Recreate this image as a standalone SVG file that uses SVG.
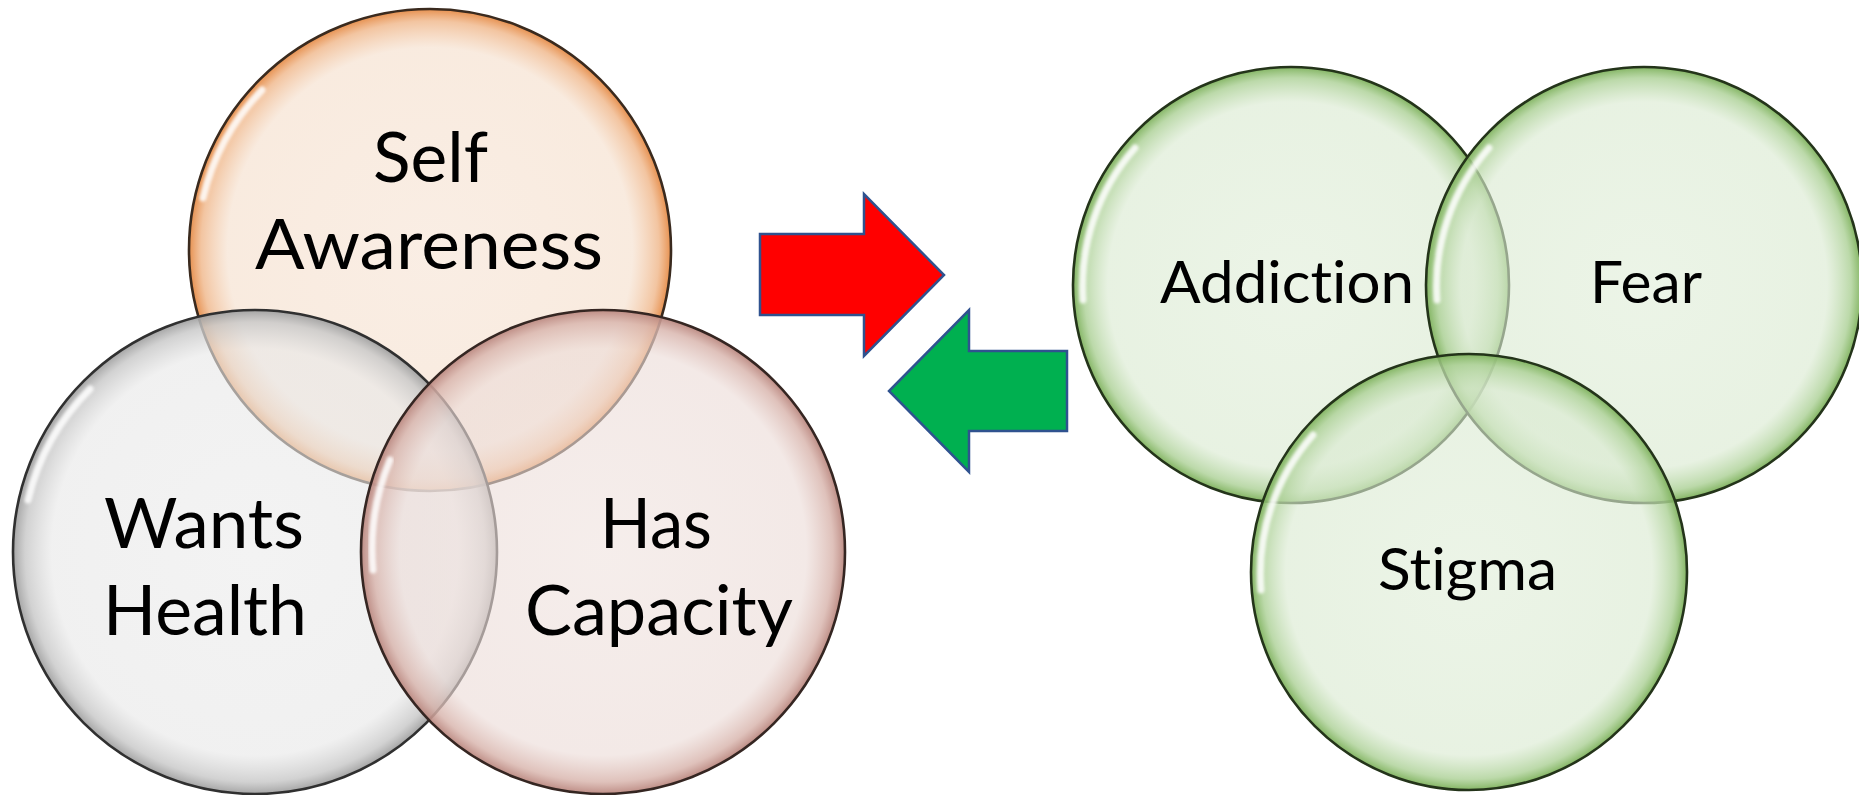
<svg xmlns="http://www.w3.org/2000/svg" width="1859" height="795" viewBox="0 0 1859 795">
<defs>
<style>
.lbl{font-family:Lato,"Open Sans","Liberation Sans",sans-serif;fill:#000;font-variant-ligatures:none;font-feature-settings:"liga" 0,"clig" 0;}
.big{font-size:70px;}
.small{font-size:58px;}
.ring{stroke-width:2.6;}
.shine{fill:none;stroke:#fff;stroke-width:7;stroke-linecap:round;opacity:0.85;filter:url(#blur);}
.arrow{stroke:#2F528F;stroke-width:2.5;stroke-linejoin:miter;}
</style>
<filter id="blur" x="-20%" y="-20%" width="140%" height="140%"><feGaussianBlur stdDeviation="1.8"/></filter>
<radialGradient id="gSA" cx="0.5" cy="0.5" r="0.5">
<stop offset="0" stop-color="#F6E2D2" stop-opacity="0.6"/>
<stop offset="0.84" stop-color="#F5DFCC" stop-opacity="0.63"/>
<stop offset="0.95" stop-color="#F0B88C" stop-opacity="0.82"/>
<stop offset="1" stop-color="#E58A45" stop-opacity="0.95"/>
</radialGradient>
<radialGradient id="gWH" cx="0.5" cy="0.5" r="0.5">
<stop offset="0" stop-color="#EBEBEB" stop-opacity="0.6"/>
<stop offset="0.84" stop-color="#E8E8E8" stop-opacity="0.63"/>
<stop offset="0.95" stop-color="#C8C8C8" stop-opacity="0.82"/>
<stop offset="1" stop-color="#A0A0A0" stop-opacity="0.95"/>
</radialGradient>
<radialGradient id="gHC" cx="0.5" cy="0.5" r="0.5">
<stop offset="0" stop-color="#EFE2DE" stop-opacity="0.6"/>
<stop offset="0.84" stop-color="#ECDCD8" stop-opacity="0.63"/>
<stop offset="0.95" stop-color="#D8B4AC" stop-opacity="0.82"/>
<stop offset="1" stop-color="#BA877F" stop-opacity="0.95"/>
</radialGradient>
<radialGradient id="gGR" cx="0.5" cy="0.5" r="0.5">
<stop offset="0" stop-color="#DFEDD7" stop-opacity="0.6"/>
<stop offset="0.84" stop-color="#DAEAD1" stop-opacity="0.63"/>
<stop offset="0.95" stop-color="#ADD197" stop-opacity="0.82"/>
<stop offset="1" stop-color="#7DB15B" stop-opacity="0.95"/>
</radialGradient>
</defs>
<rect width="1859" height="795" fill="#fff"/>

<g id="self-awareness">
<circle cx="430" cy="250" r="241" fill="url(#gSA)" stroke="#3A2A1E" class="ring"/>
<path class="shine" d="M 203 198 A 232 232 0 0 1 262 90"/>
<text class="lbl big" x="373" y="182" textLength="115" lengthAdjust="spacingAndGlyphs">Self</text>
<text class="lbl big" x="255" y="269" textLength="348" lengthAdjust="spacingAndGlyphs">Awareness</text>
</g>

<g id="wants-health">
<circle cx="255" cy="552" r="242" fill="url(#gWH)" stroke="#303030" class="ring"/>
<path class="shine" d="M 28 500 A 232 232 0 0 1 90 389"/>
<text class="lbl big" x="104" y="548" textLength="200" lengthAdjust="spacingAndGlyphs">Wants</text>
<text class="lbl big" x="103" y="635" textLength="204" lengthAdjust="spacingAndGlyphs">Health</text>
</g>

<g id="has-capacity">
<circle cx="603" cy="552" r="242" fill="url(#gHC)" stroke="#352622" class="ring"/>
<path class="shine" d="M 373 570 A 232 232 0 0 1 390 460"/>
<text class="lbl big" x="600" y="548" textLength="112" lengthAdjust="spacingAndGlyphs">Has</text>
<text class="lbl big" x="525" y="635" textLength="268" lengthAdjust="spacingAndGlyphs">Capacity</text>
</g>

<g id="connectors">
<polygon class="arrow" fill="#FF0000" points="760,234 864,234 864,194 944,275 864,356 864,315 760,315"/>
<polygon class="arrow" fill="#00B050" points="1067,351 969,351 969,310 889,391 969,472 969,431 1067,431"/>
</g>

<g id="addiction">
<circle cx="1291" cy="285" r="218" fill="url(#gGR)" stroke="#24341A" class="ring"/>
<path class="shine" d="M 1083 300 A 209 209 0 0 1 1135 148"/>
<text class="lbl small" x="1160" y="303" textLength="254" lengthAdjust="spacingAndGlyphs">Addiction</text>
</g>

<g id="fear">
<circle cx="1644" cy="285" r="218" fill="url(#gGR)" stroke="#24341A" class="ring"/>
<path class="shine" d="M 1437 300 A 209 209 0 0 1 1489 148"/>
<text class="lbl small" x="1590" y="303" textLength="112" lengthAdjust="spacingAndGlyphs">Fear</text>
</g>

<g id="stigma">
<circle cx="1469" cy="572" r="218" fill="url(#gGR)" stroke="#24341A" class="ring"/>
<path class="shine" d="M 1261 590 A 209 209 0 0 1 1313 435"/>
<text class="lbl small" x="1378" y="590" textLength="179" lengthAdjust="spacingAndGlyphs">Stigma</text>
</g>
</svg>
